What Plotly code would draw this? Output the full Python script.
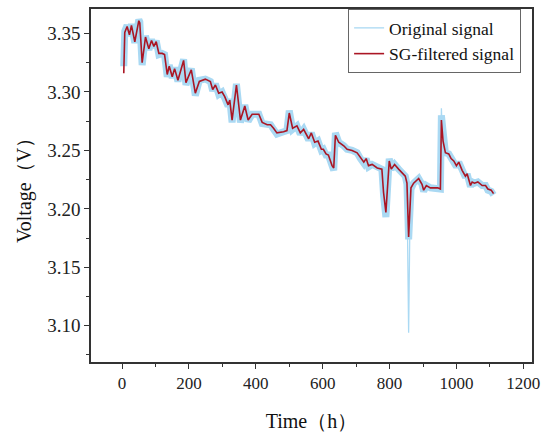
import plotly.graph_objects as go

# --- data ---
time_h = [5, 8, 15, 22, 28, 38, 50, 53, 60, 70,
          80, 88, 95, 102, 110, 120, 127, 135, 141, 150,
          157, 167, 184, 191, 207, 219, 231, 249, 264, 271,
          279, 289, 299, 307, 317, 322, 329, 342, 354, 367,
          377, 389, 409, 419, 434, 444, 453, 463, 483, 493,
          500, 510, 523, 533, 543, 558, 566, 576, 586, 596,
          602, 610, 617, 628, 633, 638, 648, 663, 673, 688,
          703, 713, 723, 730, 737, 748, 763, 777, 782, 789,
          795, 799, 805, 815, 827, 837, 847, 852, 857, 864,
          872, 887, 897, 902, 910, 922, 932, 944, 952, 955,
          960, 967, 977, 984, 992, 1000, 1007, 1017, 1027, 1032,
          1042, 1047, 1054, 1064, 1077, 1087, 1094, 1104, 1111]

sg_volt = [3.316, 3.351, 3.356, 3.349, 3.357, 3.343, 3.361, 3.359, 3.325, 3.347,
           3.337, 3.344, 3.339, 3.343, 3.333, 3.333, 3.332, 3.315, 3.322, 3.313,
           3.320, 3.310, 3.327, 3.308, 3.319, 3.299, 3.309, 3.311, 3.309, 3.302,
           3.306, 3.299, 3.300, 3.296, 3.289, 3.293, 3.276, 3.306, 3.276, 3.288,
           3.276, 3.281, 3.281, 3.274, 3.272, 3.272, 3.269, 3.265, 3.266, 3.267,
           3.282, 3.269, 3.271, 3.265, 3.268, 3.260, 3.265, 3.257, 3.258, 3.251,
           3.251, 3.247, 3.246, 3.237, 3.235, 3.263, 3.257, 3.254, 3.251, 3.250,
           3.248, 3.244, 3.240, 3.243, 3.237, 3.238, 3.235, 3.234, 3.214, 3.197,
           3.223, 3.241, 3.234, 3.238, 3.234, 3.231, 3.228, 3.222, 3.176, 3.218,
           3.222, 3.226, 3.221, 3.216, 3.220, 3.218, 3.218, 3.218, 3.217, 3.276,
           3.258, 3.248, 3.247, 3.243, 3.241, 3.237, 3.240, 3.233, 3.228, 3.230,
           3.220, 3.223, 3.222, 3.223, 3.220, 3.220, 3.217, 3.216, 3.213]

orig_volt = [3.322, 3.352, 3.357, 3.348, 3.358, 3.342, 3.362, 3.360, 3.323, 3.348,
             3.336, 3.345, 3.338, 3.344, 3.332, 3.333, 3.332, 3.313, 3.323, 3.312,
             3.321, 3.309, 3.328, 3.306, 3.320, 3.297, 3.310, 3.311, 3.309, 3.301,
             3.307, 3.298, 3.300, 3.295, 3.288, 3.294, 3.274, 3.307, 3.274, 3.289,
             3.275, 3.281, 3.281, 3.273, 3.272, 3.272, 3.268, 3.264, 3.266, 3.267,
             3.284, 3.268, 3.271, 3.264, 3.268, 3.259, 3.265, 3.256, 3.258, 3.250,
             3.251, 3.246, 3.246, 3.235, 3.233, 3.265, 3.257, 3.254, 3.251, 3.250,
             3.248, 3.243, 3.239, 3.243, 3.236, 3.238, 3.235, 3.234, 3.212, 3.193,
             3.223, 3.243, 3.234, 3.238, 3.234, 3.231, 3.228, 3.221, 3.174, 3.217,
             3.222, 3.226, 3.221, 3.215, 3.220, 3.218, 3.218, 3.218, 3.217, 3.280,
             3.259, 3.248, 3.247, 3.243, 3.241, 3.236, 3.240, 3.232, 3.227, 3.230,
             3.219, 3.223, 3.222, 3.223, 3.220, 3.220, 3.216, 3.215, 3.212]

# isolated raw samples that stick out of the band
outlier_time = [852, 857, 862, None, 952, 955, 958]
outlier_volt = [3.222, 3.094, 3.218, None, 3.217, 3.286, 3.262]

x_ticks = [0, 200, 400, 600, 800, 1000, 1200]
y_ticks = [3.10, 3.15, 3.20, 3.25, 3.30, 3.35]

assert len(time_h) == len(sg_volt) == len(orig_volt)

BLUE = "#aad9f3"
RED = "#ab1624"
AXIS = "#333333"
SERIF = "Times New Roman, Liberation Serif, DejaVu Serif, serif"

fig = go.Figure()

# raw signal drawn as a wide light band
fig.add_trace(go.Scatter(
    x=time_h, y=orig_volt, mode="lines",
    line=dict(color=BLUE, width=7),
    legendgroup="orig", showlegend=False, hoverinfo="skip"
))
fig.add_trace(go.Scatter(
    x=outlier_time, y=outlier_volt, mode="lines",
    line=dict(color=BLUE, width=1.3),
    name="Original signal", legendgroup="orig"
))
fig.add_trace(go.Scatter(
    x=time_h, y=sg_volt, mode="lines",
    line=dict(color=RED, width=1.6),
    name="SG-filtered signal"
))

axis_common = dict(
    showline=True, linecolor=AXIS, linewidth=1.5, mirror=True,
    ticks="outside", ticklen=5, tickwidth=1.3, tickcolor=AXIS,
    showgrid=False, zeroline=False,
)

fig.update_xaxes(
    range=[-93, 1226], tickvals=x_ticks,
    tickfont=dict(family=SERIF, size=17, color="#222222"),
    minor=dict(dtick=100, tick0=0, ticks="outside", ticklen=3, tickcolor=AXIS, tickwidth=1.2),
    title=dict(text="Time（h）", font=dict(family=SERIF, size=20, color="#111111"), standoff=22),
    **axis_common
)
fig.update_yaxes(
    range=[3.069, 3.371], tickvals=y_ticks, tickformat=".2f",
    tickfont=dict(family=SERIF, size=19, color="#222222"),
    minor=dict(dtick=0.025, tick0=3.0, ticks="outside", ticklen=3, tickcolor=AXIS, tickwidth=1.2),
    title=dict(text="Voltage（V）", font=dict(family=SERIF, size=20, color="#111111"), standoff=10),
    **axis_common
)

fig.update_layout(
    width=550, height=436,
    margin=dict(l=91, r=18, t=7, b=74),
    paper_bgcolor="white", plot_bgcolor="white",
    font=dict(family=SERIF),
    legend=dict(
        x=0.583, y=1.0, xanchor="left", yanchor="top",
        bgcolor="white", bordercolor="#666666", borderwidth=1,
        font=dict(family=SERIF, size=17.5, color="#111111"),
        tracegroupgap=0, itemwidth=30,
    ),
)

# page body has a default margin; drop it so the figure sits at the window origin
fig.write_html("out.html", config={"displayModeBar": False},
               post_script="document.body.style.margin='0';")
